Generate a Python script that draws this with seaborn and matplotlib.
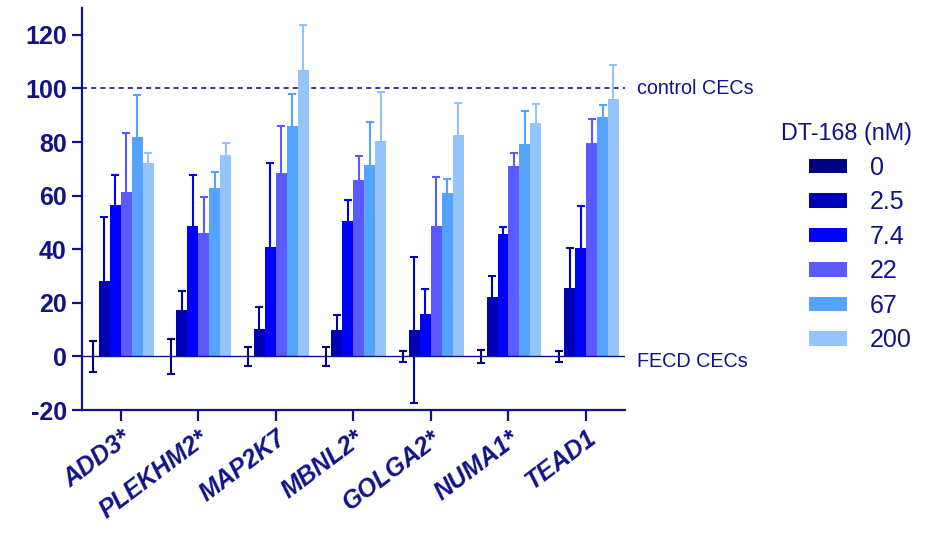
import seaborn as sns
import matplotlib.pyplot as plt
import matplotlib.transforms as mtransforms
import pandas as pd


# Data (% of control, mean and error)
genes = ['ADD3*', 'PLEKHM2*', 'MAP2K7', 'MBNL2*', 'GOLGA2*', 'NUMA1*', 'TEAD1']
doses = ['0', '2.5', '7.4', '22', '67', '200']

means = {
    '0':   [0, 0, 0, 0, 0, 0, 0],
    '2.5': [28, 17.3, 10.1, 9.9, 10, 22.3, 25.5],
    '7.4': [56.6, 48.6, 40.7, 50.5, 16, 45.7, 40.5],
    '22':  [61.5, 46, 68.3, 65.8, 48.7, 70.9, 79.8],
    '67':  [82, 62.8, 85.9, 71.3, 61, 79.3, 89.5],
    '200': [72, 75, 106.9, 80.3, 82.5, 87, 95.9],
}
errors = {
    '0':   [5.6, 6.4, 3.6, 3.6, 2.2, 2.5, 1.9],
    '2.5': [24, 7, 8.5, 5.6, 27.3, 7.8, 14.8],
    '7.4': [11, 19, 31.5, 8, 9.1, 2.5, 15.7],
    '22':  [22, 13.5, 17.5, 9, 18.2, 5, 8.7],
    '67':  [15.5, 6, 12, 16.2, 5.3, 12.2, 4.3],
    '200': [4, 4.5, 16.6, 18.3, 12.1, 7.1, 12.8],
}

colors = ['#000080', '#0000b4', '#0000ff', '#5a5aff', '#55a2ff', '#94c4fa']
navy = '#12128a'

# Long table for seaborn
rows = []
for d in doses:
    for g, m in zip(genes, means[d]):
        rows.append({'gene': g, 'dose': d, 'value': m})
df = pd.DataFrame(rows)

sns.set_style('ticks')
plt.rcParams['font.family'] = ['Liberation Sans', 'DejaVu Sans']
plt.rcParams['axes.unicode_minus'] = False

fig, ax = plt.subplots(figsize=(9.27, 5.34), dpi=100)
fig.subplots_adjust(left=0.0885, right=0.674, bottom=0.232, top=0.985)

sns.barplot(data=df, x='gene', y='value', hue='dose', order=genes, hue_order=doses,
            palette=colors, width=0.85, gap=0, saturation=1, errorbar=None,
            linewidth=0, zorder=3, ax=ax)

# Error bars drawn behind the bars, one colour per dose
for cont, d, col in zip(ax.containers, doses, colors):
    xs = [b.get_x() + b.get_width() / 2 for b in cont]
    ax.errorbar(xs, means[d], yerr=errors[d], fmt='none', ecolor=col,
                elinewidth=1.5, capsize=3, capthick=1.5, zorder=2)

# Reference lines
ax.axhline(100, color=navy, lw=1.2, ls=(0, (3, 2.5)), zorder=1)
ax.axhline(0, color=navy, lw=1, zorder=4)

trans = mtransforms.blended_transform_factory(ax.transAxes, ax.transData)
ax.text(1.022, 100, 'control CECs', transform=trans, va='center', ha='left',
        color=navy, fontsize=14.2)
ax.text(1.022, -2, 'FECD CECs', transform=trans, va='center', ha='left',
        color=navy, fontsize=14.2)

ax.set_xlim(-0.5, 6.5)
ax.set_ylim(-20, 130)
ax.set_yticks([-20, 0, 20, 40, 60, 80, 100, 120])
ax.set_xlabel('')
ax.set_ylabel('')

for side in ['top', 'right']:
    ax.spines[side].set_visible(False)
for side in ['left', 'bottom']:
    ax.spines[side].set_color(navy)
    ax.spines[side].set_linewidth(1.6)

ax.tick_params(axis='y', colors=navy, length=7, width=1.6, labelsize=18, pad=4)
ax.tick_params(axis='x', colors=navy, length=8, width=1.6, labelsize=18)
for lab in ax.get_yticklabels():
    lab.set_fontweight('bold')
for lab in ax.get_xticklabels():
    lab.set_fontweight('bold')
    lab.set_fontstyle('italic')
    lab.set_rotation(37)
    lab.set_ha('right')
    lab.set_rotation_mode('anchor')

# Legend on the right
handles, labels = ax.get_legend_handles_labels()
ax.legend_.remove()
leg = fig.legend(handles, labels, title='DT-168 (nM)', loc='upper left',
                 bbox_to_anchor=(0.818, 0.813), frameon=False, fontsize=18,
                 title_fontsize=16.8, handlelength=1.55, handleheight=0.5,
                 handletextpad=0.9, labelspacing=0.42, alignment='right')
for t in leg.get_texts():
    t.set_color(navy)
leg.get_title().set_color(navy)

fig.savefig('out.png', dpi=100)
